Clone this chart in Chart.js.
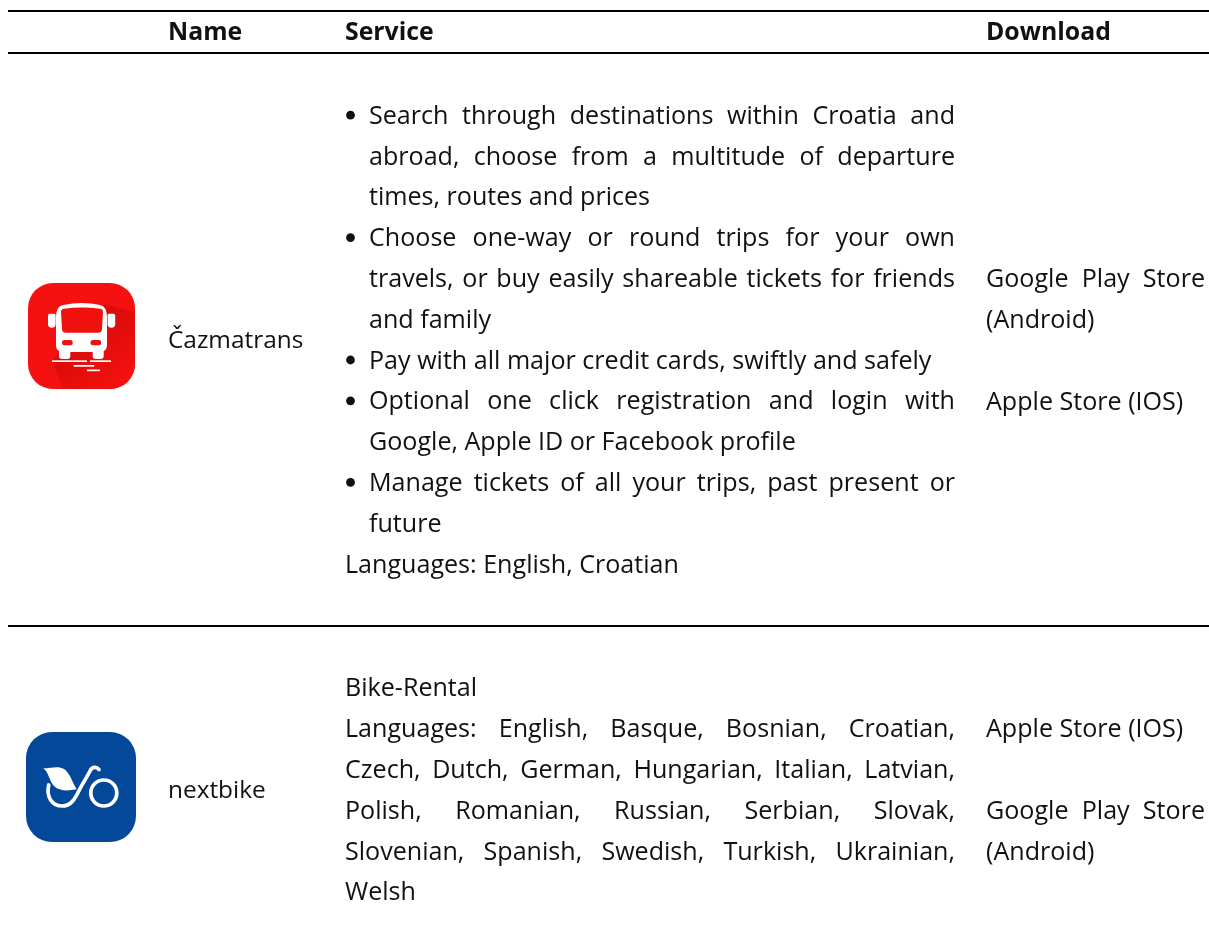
<!DOCTYPE html>
<html>
<head>
<meta charset="utf-8">
<title>Apps</title>
<script src="https://cdn.jsdelivr.net/npm/chart.js@4"></script>
<style>
    html, body { margin: 0; padding: 0; background: #fff; }
    canvas { display: block; }
</style>
</head>
<body>
<canvas id="tableChart" width="1209" height="944"></canvas>
<script>
// Table content
const columns = ['Name', 'Service', 'Download'];
const appNames = ['Čazmatrans', 'nextbike'];

const cazmatransBullets = [
    ['Search through destinations within Croatia and', 'abroad, choose from a multitude of departure', 'times, routes and prices'],
    ['Choose one-way or round trips for your own', 'travels, or buy easily shareable tickets for friends', 'and family'],
    ['Pay with all major credit cards, swiftly and safely'],
    ['Optional one click registration and login with', 'Google, Apple ID or Facebook profile'],
    ['Manage tickets of all your trips, past present or', 'future']
];
const cazmatransNotes = [['Languages: English, Croatian']];
const cazmatransDownload = [['Google Play Store', '(Android)'], [], ['Apple Store (IOS)']];

const nextbikeNotes = [
    ['Bike-Rental'],
    ['Languages: English, Basque, Bosnian, Croatian,', 'Czech, Dutch, German, Hungarian, Italian, Latvian,', 'Polish, Romanian, Russian, Serbian, Slovak,', 'Slovenian, Spanish, Swedish, Turkish, Ukrainian,', 'Welsh']
];
const nextbikeDownload = [['Apple Store (IOS)'], [], ['Google Play Store', '(Android)']];

// Horizontal rules of the table
const ruleRows = [11, 53, 626];

// Layout
const FONT = '"Open Sans", "Noto Sans", sans-serif';
const TEXT_SIZE = 25.1;
const NAME_SIZE = 24.4;
const HEAD_SIZE = 24.8;
const TEXT_COLOR = '#111';
const LINE = 40.8;
const NAME_X = 168;
const SERVICE_X = 345;
const BULLET_TEXT_X = 369;
const SERVICE_RIGHT = 955;
const DOWNLOAD_X = 986;
const DOWNLOAD_RIGHT = 1205;

// Draws one paragraph, every line but the last is justified
function drawParagraph(ctx, scales, lines, left, right, top) {
    lines.forEach((text, i) => {
        const y = scales.y.getPixelForValue(top + i * LINE);
        const x0 = scales.x.getPixelForValue(left);
        const x1 = scales.x.getPixelForValue(right);
        ctx.wordSpacing = '0px';
        if (i < lines.length - 1) {
            const gaps = text.split(' ').length - 1;
            const extra = (x1 - x0 - ctx.measureText(text).width) / gaps;
            ctx.wordSpacing = extra + 'px';
        }
        ctx.fillText(text, x0, y);
    });
    ctx.wordSpacing = '0px';
    return top + Math.max(lines.length, 1) * LINE;
}

function drawColumn(ctx, scales, paragraphs, left, right, top) {
    let y = top;
    paragraphs.forEach(lines => {
        y = lines.length ? drawParagraph(ctx, scales, lines, left, right, y) : y + LINE;
    });
    return y;
}

// Red bus icon
function drawBusIcon(ctx) {
    ctx.save();
    ctx.beginPath();
    ctx.roundRect(28, 283, 107, 106, 25);
    ctx.clip();
    ctx.fillStyle = '#f5110f';
    ctx.fillRect(28, 283, 107, 106);

    const shade = ctx.createLinearGradient(90, 335, 128, 380);
    shade.addColorStop(0, '#dc0c0a');
    shade.addColorStop(1, '#f5110f');
    ctx.fillStyle = shade;
    ctx.beginPath();
    ctx.moveTo(104, 304);
    ctx.lineTo(138, 313);
    ctx.lineTo(138, 392);
    ctx.lineTo(63, 389);
    ctx.lineTo(52, 361);
    ctx.closePath();
    ctx.fill();
    ctx.restore();

    // body
    ctx.fillStyle = '#fff';
    ctx.beginPath();
    ctx.moveTo(56, 318);
    ctx.quadraticCurveTo(56, 306, 63, 305);
    ctx.quadraticCurveTo(81.5, 301, 100, 305);
    ctx.quadraticCurveTo(107, 306, 107, 318);
    ctx.lineTo(107, 345);
    ctx.quadraticCurveTo(107, 352, 100, 352);
    ctx.lineTo(63, 352);
    ctx.quadraticCurveTo(56, 352, 56, 345);
    ctx.closePath();
    ctx.fill();

    // mirrors and wheels
    ctx.beginPath();
    ctx.roundRect(48, 313.7, 7.6, 14, [2, 2, 5, 5]);
    ctx.roundRect(107.6, 313.7, 7.6, 14, [2, 2, 5, 5]);
    ctx.roundRect(59, 350, 11.3, 9, [0, 0, 3, 3]);
    ctx.roundRect(92.7, 350, 11, 9, [0, 0, 3, 3]);
    ctx.fill();

    // road
    ctx.fillRect(52, 360.3, 35, 1.7);
    ctx.fillRect(90, 360.3, 21, 1.7);
    ctx.fillRect(73.7, 365, 20.6, 1.7);
    ctx.fillRect(87, 369.5, 13, 1.7);

    // window and lights
    ctx.fillStyle = '#f0100e';
    ctx.beginPath();
    ctx.moveTo(61, 312);
    ctx.quadraticCurveTo(61, 309, 64, 308.8);
    ctx.quadraticCurveTo(82, 306, 100, 308.8);
    ctx.quadraticCurveTo(103, 309, 103, 312);
    ctx.lineTo(102, 329);
    ctx.quadraticCurveTo(102, 332.7, 98, 332.7);
    ctx.lineTo(66, 332.7);
    ctx.quadraticCurveTo(62, 332.7, 62, 329);
    ctx.closePath();
    ctx.fill();
    ctx.beginPath();
    ctx.roundRect(62, 340, 10.7, 5.3, 2.5);
    ctx.roundRect(90.5, 340, 10.7, 5.3, 2.5);
    ctx.fill();
}

// Blue bicycle icon
function drawBikeIcon(ctx) {
    ctx.fillStyle = '#04489a';
    ctx.beginPath();
    ctx.roundRect(26, 732, 110, 110, 26);
    ctx.fill();

    ctx.strokeStyle = '#fff';
    ctx.lineWidth = 3.7;
    ctx.lineCap = 'round';
    ctx.lineJoin = 'round';
    ctx.beginPath();
    ctx.arc(103.8, 793, 13, 0, Math.PI * 2);
    ctx.stroke();

    ctx.beginPath();
    ctx.moveTo(48.7, 785);
    ctx.bezierCurveTo(46, 797, 52, 806, 62, 806);
    ctx.bezierCurveTo(71, 806, 75, 799, 79.3, 790);
    ctx.bezierCurveTo(83, 783, 87, 777, 90, 771);
    ctx.bezierCurveTo(92, 767, 96, 766, 99, 769.5);
    ctx.stroke();

    ctx.fillStyle = '#fff';
    ctx.beginPath();
    ctx.moveTo(43.3, 768.3);
    ctx.bezierCurveTo(50, 768.5, 57, 765.5, 63, 768.5);
    ctx.bezierCurveTo(70, 772, 72, 782, 76.7, 789.3);
    ctx.bezierCurveTo(68, 791, 60, 791, 55, 787);
    ctx.bezierCurveTo(49, 782, 49, 772, 43.3, 768.3);
    ctx.closePath();
    ctx.fill();
}

const tableText = {
    id: 'tableText',
    afterDraw(chart) {
        const { ctx, scales } = chart;
        ctx.save();
        ctx.textBaseline = 'alphabetic';
        ctx.textAlign = 'left';
        ctx.fillStyle = TEXT_COLOR;

        // Header
        ctx.font = `bold ${HEAD_SIZE}px ${FONT}`;
        ctx.fillText(columns[0], NAME_X, 40);
        ctx.fillText(columns[1], SERVICE_X, 40);
        ctx.fillText(columns[2], DOWNLOAD_X, 40);

        // Name column
        ctx.font = `${NAME_SIZE}px ${FONT}`;
        ctx.fillText(appNames[0], NAME_X, 348);
        ctx.fillText(appNames[1], NAME_X, 798);

        ctx.font = `${TEXT_SIZE}px ${FONT}`;

        // First row
        let y = 123.7;
        cazmatransBullets.forEach(lines => {
            ctx.beginPath();
            ctx.arc(350.5, y - 8.5, 4.4, 0, Math.PI * 2);
            ctx.fill();
            y = drawParagraph(ctx, scales, lines, BULLET_TEXT_X, SERVICE_RIGHT, y);
        });
        drawColumn(ctx, scales, cazmatransNotes, SERVICE_X, SERVICE_RIGHT, y);
        drawColumn(ctx, scales, cazmatransDownload, DOWNLOAD_X, DOWNLOAD_RIGHT, 287.2);

        // Second row
        drawColumn(ctx, scales, nextbikeNotes, SERVICE_X, SERVICE_RIGHT, 696.4);
        drawColumn(ctx, scales, nextbikeDownload, DOWNLOAD_X, DOWNLOAD_RIGHT, 737.4);

        drawBusIcon(ctx);
        drawBikeIcon(ctx);
        ctx.restore();
    }
};

new Chart(document.getElementById('tableChart').getContext('2d'), {
    type: 'scatter',
    data: {
        datasets: ruleRows.map(row => ({
            data: [{ x: 8, y: row }, { x: 1209, y: row }],
            showLine: true,
            borderColor: '#000',
            borderWidth: 2,
            pointRadius: 0
        }))
    },
    options: {
        responsive: false,
        animation: false,
        layout: { padding: 0 },
        plugins: { legend: { display: false }, tooltip: { enabled: false } },
        scales: {
            x: { type: 'linear', display: false, min: 0, max: 1209 },
            y: { type: 'linear', display: false, reverse: true, min: 0, max: 944 }
        }
    },
    plugins: [tableText]
});
</script>
</body>
</html>
